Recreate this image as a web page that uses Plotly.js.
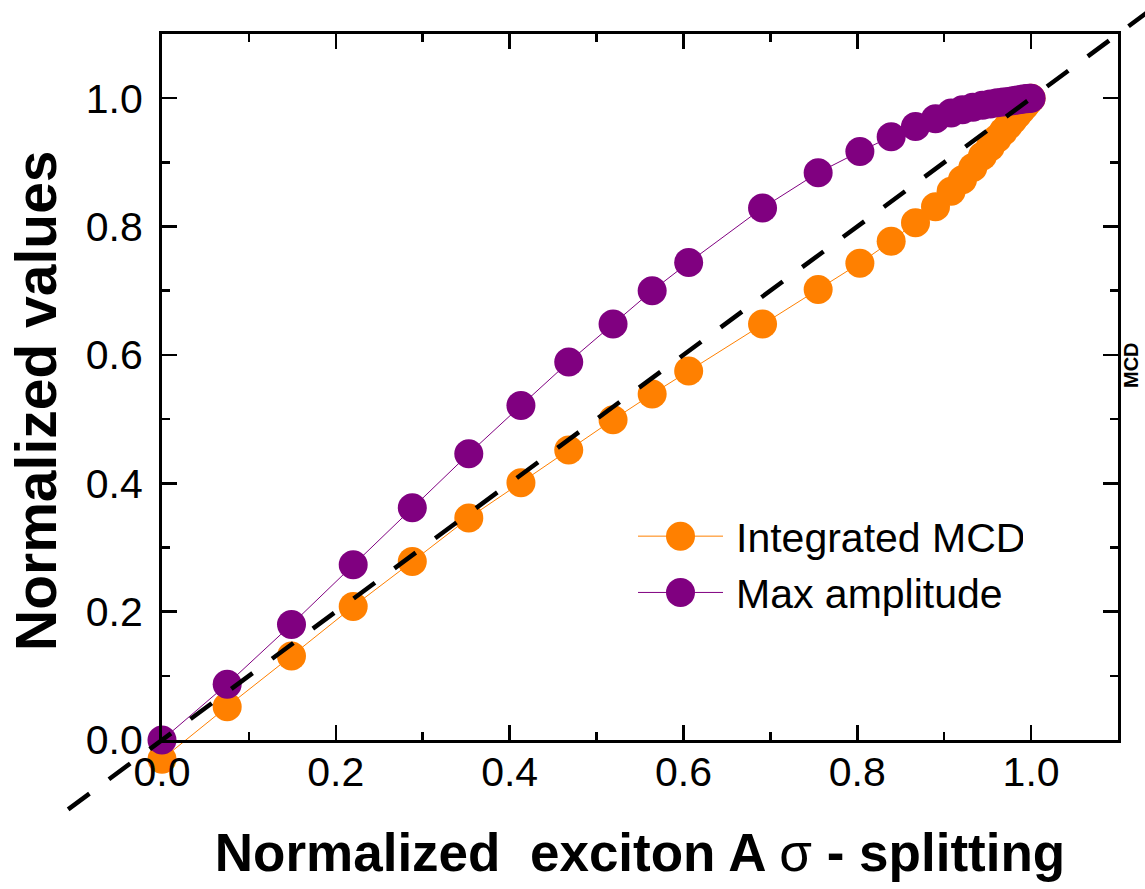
<!DOCTYPE html>
<html>
<head>
<meta charset="utf-8">
<script src="https://cdn.plot.ly/plotly-3.0.1.min.js"></script>
<style>html,body{margin:0;padding:0;background:#fff;}#chart{width:1145px;height:889px;}</style>
</head>
<body>
<div id="chart"></div>
<script>
// ---- data ----
const splitting = [0, 0.075, 0.149, 0.220, 0.288, 0.353, 0.413, 0.468, 0.519, 0.564, 0.606, 0.691, 0.755, 0.803, 0.839, 0.867, 0.890, 0.908, 0.921, 0.933, 0.944, 0.953, 0.961, 0.968, 0.974, 0.979, 0.984, 0.988, 0.992, 0.995, 0.998, 1.0];
const integratedMCD = [-0.030, 0.052, 0.131, 0.208, 0.278, 0.346, 0.401, 0.452, 0.499, 0.539, 0.575, 0.648, 0.702, 0.743, 0.777, 0.806, 0.831, 0.855, 0.873, 0.892, 0.910, 0.924, 0.937, 0.948, 0.958, 0.966, 0.974, 0.981, 0.987, 0.992, 0.997, 1.0];
const maxAmplitude = [0, 0.087, 0.180, 0.273, 0.362, 0.446, 0.521, 0.589, 0.648, 0.700, 0.744, 0.829, 0.884, 0.917, 0.940, 0.956, 0.968, 0.977, 0.982, 0.986, 0.989, 0.991, 0.993, 0.994, 0.995, 0.996, 0.997, 0.998, 0.999, 0.999, 1.0, 1.0];
const refLine = [-0.108, 1.2];          // y = x guide line
const seriesNames = ['Integrated MCD', 'Max amplitude'];
const tickVals = [0, 0.2, 0.4, 0.6, 0.8, 1.0];

// ---- layout geometry (pixels) ----
const W = 1145, H = 889;
const L = 162, R = 1118, T = 34, B = 740;
const AX_MAX = 1.1;
const sx = (R - L) / AX_MAX, sy = (B - T) / AX_MAX;

const FONT = 'Liberation Sans, Arial, sans-serif';
const ORANGE = '#FF8000', PURPLE = '#800080';

// x/y  : full-figure axes calibrated to the frame (orange series may dip below the frame)
// x2/y2: the framed, visible axes (purple series)
// x3/y3: full-figure axes calibrated to the frame (dashed y = x guide, drawn on top)
const traces = [
  {x: splitting, y: integratedMCD, name: seriesNames[0], type: 'scatter', mode: 'lines+markers',
   xaxis: 'x', yaxis: 'y',
   line: {color: ORANGE, width: 1}, marker: {color: ORANGE, size: 29}},
  {x: splitting, y: maxAmplitude, name: seriesNames[1], type: 'scatter', mode: 'lines+markers',
   xaxis: 'x2', yaxis: 'y2', cliponaxis: false,
   line: {color: PURPLE, width: 1}, marker: {color: PURPLE, size: 29}},
  {x: refLine, y: refLine, xaxis: 'x3', yaxis: 'y3', type: 'scatter', mode: 'lines', showlegend: false,
   line: {color: '#000', width: 4.5, dash: '26.5px,24.2px'}, hoverinfo: 'skip'}
];

const axBase = {
  range: [0, AX_MAX], tickvals: tickVals, tickformat: '.1f',
  showline: true, linecolor: '#000', linewidth: 3, mirror: 'allticks',
  ticks: 'inside', ticklen: 15, tickwidth: 2.5, tickcolor: '#000',
  minor: {ticks: 'inside', ticklen: 8, tickwidth: 2.5, tickcolor: '#000', dtick: 0.1, showgrid: false},
  showgrid: false, zeroline: false, automargin: false, fixedrange: true,
  tickfont: {family: FONT, size: 41, color: '#000'}
};
const fullX = {domain: [0, 1], range: [-L / sx, (W - L) / sx], visible: false, fixedrange: true};
const fullY = {domain: [0, 1], range: [-(H - B) / sy, B / sy], visible: false, fixedrange: true};

const layout = {
  width: W, height: H,
  margin: {l: 0, r: 0, t: 0, b: 0},
  paper_bgcolor: '#fff', plot_bgcolor: 'rgba(0,0,0,0)',
  font: {family: FONT, color: '#000'},
  xaxis: Object.assign({}, fullX, {anchor: 'y'}),
  yaxis: Object.assign({}, fullY, {anchor: 'x'}),
  xaxis2: Object.assign({}, axBase, {
    domain: [L / W, R / W], anchor: 'y2', ticklabelstandoff: -6,
    title: {text: 'Normalized&nbsp; exciton A <span style="font-weight:normal">σ</span> - splitting',
            font: {family: FONT, size: 53, color: '#000', weight: 'bold'}, standoff: 40}
  }),
  yaxis2: Object.assign({}, axBase, {
    domain: [(H - B) / H, (H - T) / H], anchor: 'x2', ticklabelstandoff: 8
  }),
  xaxis3: Object.assign({}, fullX, {anchor: 'y3'}),
  yaxis3: Object.assign({}, fullY, {anchor: 'x3'}),
  showlegend: true,
  legend: {x: 633 / W, y: 1 - 503 / H, xanchor: 'left', yanchor: 'top', bgcolor: 'rgba(0,0,0,0)',
           borderwidth: 0, itemwidth: 85, font: {family: FONT, size: 41, color: '#000'}},
  annotations: [
    {text: '<b>Normalized values</b>', xref: 'paper', yref: 'paper', x: 36 / W, y: 1 - 401 / H,
     xanchor: 'center', yanchor: 'middle', textangle: -90, showarrow: false,
     font: {family: FONT, size: 57, color: '#000'}},
    {text: '<b>MCD</b>', xref: 'paper', yref: 'paper', x: 1131 / W, y: 1 - 365 / H,
     xanchor: 'center', yanchor: 'middle', textangle: -90, borderpad: 0,
     showarrow: false, font: {family: FONT, size: 20, color: '#000'}}
  ]
};

Plotly.newPlot('chart', traces, layout, {staticPlot: true, displayModeBar: false}).then(function (gd) {
  // Plotly caps legend marker size at 16px; enlarge the legend symbols to match the plot markers.
  gd.querySelectorAll('.legend .legendpoints path.scatterpts').forEach(function (p) {
    const t = p.getAttribute('transform') || '';
    p.setAttribute('transform', t + ' scale(' + (29 / 16) + ')');
  });
  // widen the gap between legend symbol and label a little, as in the reference
  gd.querySelectorAll('.legend text.legendtext').forEach(function (t) {
    const x = parseFloat(t.getAttribute('x') || '0');
    t.setAttribute('x', x + 8);
  });
});
</script>
</body>
</html>
